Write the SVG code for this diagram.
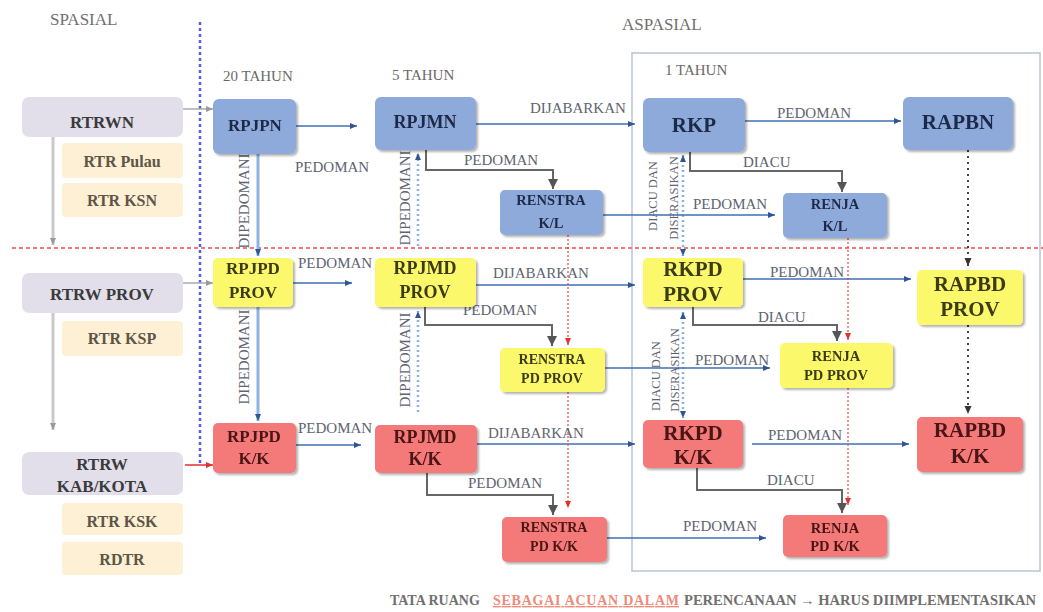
<svg xmlns="http://www.w3.org/2000/svg" width="1043" height="612" viewBox="0 0 1043 612">
<defs>
<style>
.t{font-family:"Liberation Serif","Times New Roman",serif;}
.hd{font-family:"Liberation Serif",serif;font-size:17px;fill:#707070;}
.yr{font-family:"Liberation Serif",serif;font-size:15px;fill:#6a6a6a;}
.lb{font-family:"Liberation Serif",serif;font-size:15px;fill:#5e6470;}
.lbs{font-family:"Liberation Serif",serif;font-size:12.5px;fill:#5e6470;}
.nb{font-family:"Liberation Serif",serif;font-weight:bold;text-anchor:middle;}
.blue{fill:#8eaadb;}
.yel{fill:#fbf86c;}
.red{fill:#f47a7a;}
.lav{fill:#e2dfea;}
.bei{fill:#fdf0d4;}
.tb{fill:#1f2a48;}
.ty{fill:#3a3a14;}
.tr{fill:#4a1212;}
.tl{fill:#3a3a3a;}
.te{fill:#5d5548;}
.cb{stroke:#3f6fb5;stroke-width:1.5;fill:none;}
.cg{stroke:#666;stroke-width:2;fill:none;}
.cr{stroke:#e04848;stroke-width:1.2;stroke-dasharray:2 2;fill:none;}
.cv{stroke:#8db3e2;stroke-width:3;fill:none;}
.cd{stroke:#8db3e2;stroke-width:2.5;stroke-dasharray:2 3;fill:none;}
.ck{stroke:#444;stroke-width:2;stroke-dasharray:2 4;fill:none;}
.cl{stroke:#c9c9c9;stroke-width:3;fill:none;}
</style>
<filter id="sh" x="-10%" y="-10%" width="125%" height="130%">
<feDropShadow dx="2" dy="2" stdDeviation="1.2" flood-color="#000" flood-opacity="0.3"/>
</filter>
<marker id="aB" markerUnits="userSpaceOnUse" markerWidth="8" markerHeight="8" refX="7" refY="4" orient="auto-start-reverse"><path d="M0,1 L7,4 L0,7 Z" fill="#2f5597"/></marker>
<marker id="aG" markerUnits="userSpaceOnUse" markerWidth="12" markerHeight="12" refX="10" refY="6" orient="auto"><path d="M0,1 L10,6 L0,11 Z" fill="#555"/></marker>
<marker id="aR" markerUnits="userSpaceOnUse" markerWidth="8" markerHeight="8" refX="7" refY="4" orient="auto"><path d="M0,1 L7,4 L0,7 Z" fill="#e03030"/></marker>
<marker id="aK" markerUnits="userSpaceOnUse" markerWidth="9" markerHeight="9" refX="8" refY="4.5" orient="auto"><path d="M0,1 L8,4.5 L0,8 Z" fill="#333"/></marker>
<marker id="aL" markerUnits="userSpaceOnUse" markerWidth="8" markerHeight="8" refX="7" refY="4" orient="auto"><path d="M0,1 L7,4 L0,7 Z" fill="#999"/></marker>
</defs>
<rect width="1043" height="612" fill="#ffffff"/>

<g id="guides">
<rect x="632" y="53" width="408" height="518" fill="none" stroke="#b9c4d6" stroke-width="1.5"/>
<line x1="200" y1="22" x2="200" y2="465" stroke="#5a5af0" stroke-width="2.5" stroke-dasharray="3 3"/>
<line x1="12" y1="248" x2="1043" y2="248" stroke="#ee7a7a" stroke-width="2" stroke-dasharray="4 3"/>
</g>

<g id="headers">
<text class="hd" x="50" y="25">SPASIAL</text>
<text class="hd" x="622" y="30">ASPASIAL</text>
<text class="yr" x="223" y="81">20 TAHUN</text>
<text class="yr" x="392" y="80">5 TAHUN</text>
<text class="yr" x="665" y="75">1 TAHUN</text>
</g>

<g id="connectors">
<line class="cl" x1="53" y1="137" x2="53" y2="245" marker-end="url(#aL)"/>
<line class="cl" x1="53" y1="313" x2="53" y2="430" marker-end="url(#aL)"/>
<line x1="183" y1="109" x2="213" y2="109" stroke="#aaa" stroke-width="1.5" marker-end="url(#aL)"/>
<line x1="183" y1="283" x2="213" y2="283" stroke="#aaa" stroke-width="1.5" marker-end="url(#aL)"/>
<line x1="185" y1="465" x2="213" y2="465" stroke="#e03030" stroke-width="1.5" marker-end="url(#aR)"/>

<line class="cv" x1="258" y1="154" x2="258" y2="256" marker-end="url(#aB)"/>
<line class="cv" x1="258" y1="307" x2="258" y2="421" marker-end="url(#aB)"/>
<line class="cd" x1="418" y1="246" x2="418" y2="153" marker-end="url(#aB)"/>
<line class="cd" x1="418" y1="412" x2="418" y2="311" marker-end="url(#aB)"/>
<line class="cd" x1="683" y1="155" x2="683" y2="256" marker-start="url(#aB)" marker-end="url(#aB)"/>
<line class="cd" x1="683" y1="312" x2="683" y2="418" marker-start="url(#aB)" marker-end="url(#aB)"/>

<line class="cb" x1="296" y1="126" x2="357" y2="126" marker-end="url(#aB)"/>
<line class="cb" x1="476" y1="124" x2="635" y2="124" marker-end="url(#aB)"/>
<line class="cb" x1="745" y1="121" x2="901" y2="121" marker-end="url(#aB)"/>
<line class="cb" x1="603" y1="215" x2="775" y2="215" marker-end="url(#aB)"/>
<line class="cb" x1="293" y1="283" x2="352" y2="283" marker-end="url(#aB)"/>
<line class="cb" x1="476" y1="285" x2="635" y2="285" marker-end="url(#aB)"/>
<line class="cb" x1="743" y1="279" x2="911" y2="279" marker-end="url(#aB)"/>
<line class="cb" x1="605" y1="368" x2="770" y2="368" marker-end="url(#aB)"/>
<line class="cb" x1="296" y1="445" x2="361" y2="445" marker-end="url(#aB)"/>
<line class="cb" x1="477" y1="444" x2="635" y2="444" marker-end="url(#aB)"/>
<line class="cb" x1="752" y1="444" x2="909" y2="444" marker-end="url(#aB)"/>
<line class="cb" x1="607" y1="538" x2="766" y2="538" marker-end="url(#aB)"/>

<polyline class="cg" points="426,150 426,170 553,170 553,189" marker-end="url(#aG)"/>
<polyline class="cg" points="690,152 690,171 842,171 842,192" marker-end="url(#aG)"/>
<polyline class="cg" points="425,307 425,325 552,325 552,346" marker-end="url(#aG)"/>
<polyline class="cg" points="693,307 693,325 837,325 837,341" marker-end="url(#aG)"/>
<polyline class="cg" points="427,473 427,495 553,495 553,515" marker-end="url(#aG)"/>
<polyline class="cg" points="697,468 697,490 842,490 842,513" marker-end="url(#aG)"/>

<line class="cr" x1="568" y1="235" x2="568" y2="345" marker-end="url(#aR)"/>
<line class="cr" x1="568" y1="392" x2="568" y2="508" marker-end="url(#aR)"/>
<line class="cr" x1="848" y1="238" x2="848" y2="340" marker-end="url(#aR)"/>
<line class="cr" x1="848" y1="388" x2="848" y2="505" marker-end="url(#aR)"/>

<line class="ck" x1="968" y1="150" x2="968" y2="266" marker-end="url(#aK)"/>
<line class="ck" x1="968" y1="325" x2="968" y2="414" marker-end="url(#aK)"/>

<text class="lb" x="295" y="172">PEDOMAN</text>
<text class="lb" x="530" y="113">DIJABARKAN</text>
<text class="lb" x="777" y="118">PEDOMAN</text>
<text class="lb" x="464" y="165">PEDOMAN</text>
<text class="lb" x="743" y="167">DIACU</text>
<text class="lb" x="693" y="209">PEDOMAN</text>
<text class="lb" x="298" y="268">PEDOMAN</text>
<text class="lb" x="493" y="278">DIJABARKAN</text>
<text class="lb" x="770" y="277">PEDOMAN</text>
<text class="lb" x="463" y="315">PEDOMAN</text>
<text class="lb" x="758" y="322">DIACU</text>
<text class="lb" x="695" y="365">PEDOMAN</text>
<text class="lb" x="298" y="433">PEDOMAN</text>
<text class="lb" x="488" y="438">DIJABARKAN</text>
<text class="lb" x="768" y="440">PEDOMAN</text>
<text class="lb" x="468" y="488">PEDOMAN</text>
<text class="lb" x="767" y="485">DIACU</text>
<text class="lb" x="683" y="531">PEDOMAN</text>

<text class="lb" text-anchor="middle" transform="translate(249,201) rotate(-90)">DIPEDOMANI</text>
<text class="lb" text-anchor="middle" transform="translate(249,357) rotate(-90)">DIPEDOMANI</text>
<text class="lb" text-anchor="middle" transform="translate(410,198) rotate(-90)">DIPEDOMANI</text>
<text class="lb" text-anchor="middle" transform="translate(410,360) rotate(-90)">DIPEDOMANI</text>
<text class="lbs" text-anchor="middle" transform="translate(657,196) rotate(-90)">DIACU DAN</text>
<text class="lbs" text-anchor="middle" transform="translate(678,198) rotate(-90)">DISERASIKAN</text>
<text class="lbs" text-anchor="middle" transform="translate(660,376) rotate(-90)">DIACU DAN</text>
<text class="lbs" text-anchor="middle" transform="translate(679,370) rotate(-90)">DISERASIKAN</text>
</g>

<g id="n-rtrwn"><rect class="lav" x="22" y="97" width="161" height="40" rx="7"/><text class="nb tl" x="102" y="128" font-size="17">RTRWN</text></g>
<g id="n-rtr-pulau"><rect class="bei" x="62" y="143" width="121" height="35" rx="4"/><text class="nb te" x="122" y="167" font-size="16">RTR Pulau</text></g>
<g id="n-rtr-ksn"><rect class="bei" x="62" y="183" width="121" height="34" rx="4"/><text class="nb te" x="122" y="206" font-size="16">RTR KSN</text></g>
<g id="n-rtrw-prov"><rect class="lav" x="22" y="273" width="161" height="40" rx="7"/><text class="nb tl" x="102" y="300" font-size="17">RTRW PROV</text></g>
<g id="n-rtr-ksp"><rect class="bei" x="62" y="321" width="121" height="35" rx="4"/><text class="nb te" x="122" y="344" font-size="16">RTR KSP</text></g>
<g id="n-rtrw-kk"><rect class="lav" x="22" y="452" width="161" height="43" rx="7"/><text class="nb tl" x="102" y="470" font-size="17">RTRW</text><text class="nb tl" x="102" y="492" font-size="17">KAB/KOTA</text></g>
<g id="n-rtr-ksk"><rect class="bei" x="62" y="503" width="121" height="32" rx="4"/><text class="nb te" x="122" y="527" font-size="16">RTR KSK</text></g>
<g id="n-rdtr"><rect class="bei" x="62" y="542" width="121" height="33" rx="4"/><text class="nb te" x="122" y="565" font-size="16">RDTR</text></g>

<g id="n-rpjpn" filter="url(#sh)"><rect class="blue" x="213" y="99" width="83" height="55" rx="6"/><text class="nb tb" x="255" y="131" font-size="17">RPJPN</text></g>
<g id="n-rpjmn" filter="url(#sh)"><rect class="blue" x="375" y="97" width="101" height="53" rx="6"/><text class="nb tb" x="425" y="128" font-size="18">RPJMN</text></g>
<g id="n-rkp" filter="url(#sh)"><rect class="blue" x="643" y="98" width="102" height="54" rx="6"/><text class="nb tb" x="694" y="132" font-size="21">RKP</text></g>
<g id="n-rapbn" filter="url(#sh)"><rect class="blue" x="903" y="97" width="110" height="53" rx="6"/><text class="nb tb" x="958" y="129" font-size="21">RAPBN</text></g>
<g id="n-renstra-kl" filter="url(#sh)"><rect class="blue" x="500" y="190" width="103" height="45" rx="5"/><text class="nb tb" x="551" y="205" font-size="14.5">RENSTRA</text><text class="nb tb" x="551" y="228" font-size="14.5">K/L</text></g>
<g id="n-renja-kl" filter="url(#sh)"><rect class="blue" x="783" y="193" width="104" height="45" rx="5"/><text class="nb tb" x="835" y="209" font-size="14.5">RENJA</text><text class="nb tb" x="835" y="231" font-size="14.5">K/L</text></g>

<g id="n-rpjpd-prov" filter="url(#sh)"><rect class="yel" x="213" y="258" width="80" height="49" rx="5"/><text class="nb ty" x="253" y="274" font-size="17">RPJPD</text><text class="nb ty" x="253" y="298" font-size="17">PROV</text></g>
<g id="n-rpjmd-prov" filter="url(#sh)"><rect class="yel" x="375" y="258" width="101" height="49" rx="5"/><text class="nb ty" x="425" y="274" font-size="18">RPJMD</text><text class="nb ty" x="425" y="298" font-size="18">PROV</text></g>
<g id="n-rkpd-prov" filter="url(#sh)"><rect class="yel" x="643" y="258" width="100" height="49" rx="5"/><text class="nb ty" x="693" y="276" font-size="21">RKPD</text><text class="nb ty" x="693" y="301" font-size="21">PROV</text></g>
<g id="n-rapbd-prov" filter="url(#sh)"><rect class="yel" x="917" y="270" width="106" height="55" rx="5"/><text class="nb ty" x="970" y="291" font-size="21">RAPBD</text><text class="nb ty" x="970" y="316" font-size="21">PROV</text></g>
<g id="n-renstra-pd-prov" filter="url(#sh)"><rect class="yel" x="500" y="348" width="105" height="44" rx="5"/><text class="nb ty" x="552" y="364" font-size="14">RENSTRA</text><text class="nb ty" x="552" y="383" font-size="14">PD PROV</text></g>
<g id="n-renja-pd-prov" filter="url(#sh)"><rect class="yel" x="780" y="343" width="113" height="45" rx="5"/><text class="nb ty" x="836" y="361" font-size="14.5">RENJA</text><text class="nb ty" x="836" y="380" font-size="14.5">PD PROV</text></g>

<g id="n-rpjpd-kk" filter="url(#sh)"><rect class="red" x="213" y="423" width="83" height="50" rx="5"/><text class="nb tr" x="254" y="442" font-size="17">RPJPD</text><text class="nb tr" x="254" y="464" font-size="17">K/K</text></g>
<g id="n-rpjmd-kk" filter="url(#sh)"><rect class="red" x="375" y="425" width="102" height="48" rx="5"/><text class="nb tr" x="425" y="443" font-size="18">RPJMD</text><text class="nb tr" x="425" y="465" font-size="18">K/K</text></g>
<g id="n-rkpd-kk" filter="url(#sh)"><rect class="red" x="643" y="420" width="100" height="48" rx="5"/><text class="nb tr" x="693" y="440" font-size="21">RKPD</text><text class="nb tr" x="693" y="464" font-size="21">K/K</text></g>
<g id="n-rapbd-kk" filter="url(#sh)"><rect class="red" x="917" y="417" width="106" height="55" rx="5"/><text class="nb tr" x="970" y="437" font-size="21">RAPBD</text><text class="nb tr" x="970" y="463" font-size="21">K/K</text></g>
<g id="n-renstra-pd-kk" filter="url(#sh)"><rect class="red" x="502" y="517" width="105" height="45" rx="5"/><text class="nb tr" x="554" y="532" font-size="14">RENSTRA</text><text class="nb tr" x="554" y="551" font-size="14">PD K/K</text></g>
<g id="n-renja-pd-kk" filter="url(#sh)"><rect class="red" x="783" y="515" width="104" height="42" rx="5"/><text class="nb tr" x="835" y="533" font-size="14.5">RENJA</text><text class="nb tr" x="835" y="551" font-size="14.5">PD K/K</text></g>

<g id="footer">
<text class="t" x="390" y="605" font-size="14" font-weight="bold" fill="#6f6f6f">TATA RUANG</text>
<text class="t" x="493" y="605" font-size="14" font-weight="bold" fill="#f08a7a" text-decoration="underline" textLength="186">SEBAGAI ACUAN DALAM </text>
<text class="t" x="684" y="605" font-size="14" font-weight="bold" fill="#6f6f6f" textLength="352" lengthAdjust="spacingAndGlyphs">PERENCANAAN → HARUS DIIMPLEMENTASIKAN</text>
</g>
</svg>
